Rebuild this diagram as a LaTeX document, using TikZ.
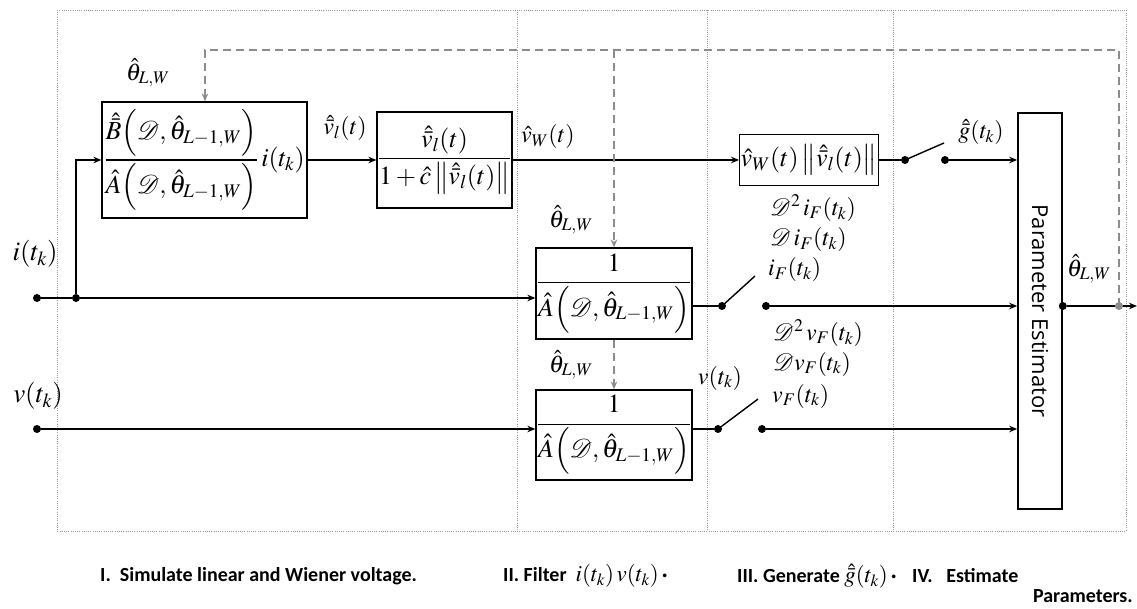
\documentclass[tikz,border=0pt]{standalone}
\usepackage{mathptmx}
\usepackage{amsmath}
\usepackage{fontspec}
\newfontfamily\carl{Carlito}
\newfontfamily\osans{Open Sans}
\usetikzlibrary{arrows.meta}
\newcommand\mfs{\fontsize{24}{28}\selectfont}
\newcommand\cfs{\fontsize{23}{26}\selectfont}
\newcommand\bfs{\fontsize{26}{30}\selectfont}
\newcommand\lfs{\fontsize{27}{30}\selectfont}
\begin{document}
\begin{tikzpicture}[x=1pt,y=-1pt,
  blk/.style={draw=black, line width=1.2pt, inner sep=1pt, font=\bfs},
  lbl/.style={inner sep=0pt, font=\mfs},
  sig/.style={line width=1.4pt, -{Stealth[length=8pt,width=6.5pt]}},
  wire/.style={line width=1.4pt},
  fb/.style={draw=black!45, dash pattern=on 8pt off 5pt, line width=1.6pt, -{Stealth[length=8pt,width=6.5pt]}},
  gridl/.style={draw=black!40, line width=0.9pt, dash pattern=on 0.9pt off 1.3pt},
  jdot/.style={circle, fill=black, inner sep=0pt, minimum size=8pt},
  gdot/.style={circle, fill=black!45, inner sep=0pt, minimum size=8pt},
  bottxt/.style={inner sep=0pt, anchor=west, font=\carl\bfseries\fontsize{20}{24}\selectfont}
]
\useasboundingbox (0,0) rectangle (1137,609);
\fill[white] (0,0) rectangle (1137,609);

% dotted stage grid
\draw[gridl] (57,10) rectangle (1126,531);
\draw[gridl] (517,10) -- (517,531);
\draw[gridl] (707,10) -- (707,531);
\draw[gridl] (893,10) -- (893,531);

% blocks
\node[blk, minimum width=205pt, minimum height=116pt] (b1) at (204.5,160)
  {$\displaystyle \frac{\hat{\bar{B}}\Big(\mathcal{D},\hat{\theta}_{L-1,W}\Big)}{\hat{A}\Big(\mathcal{D},\hat{\theta}_{L-1,W}\Big)}\,i(t_k)$};
\node[blk, minimum width=133pt, minimum height=96pt] (b2) at (444.5,160)
  {$\displaystyle \frac{\hat{\bar{v}}_l(t)}{1+\hat{c}\left\|\hat{\bar{v}}_l(t)\right\|}$};
\node[blk, minimum width=138pt, minimum height=51pt] (b3) at (809,160)
  {$\hat{v}_W(t)\left\|\hat{\bar{v}}_l(t)\right\|$};
\node[blk, minimum width=154pt, minimum height=91pt] (b4) at (614,293.5)
  {$\displaystyle\frac{1}{\hat{A}\Big(\mathcal{D},\hat{\theta}_{L-1,W}\Big)}$};
\node[blk, minimum width=154pt, minimum height=90pt] (b5) at (614,435)
  {$\displaystyle\frac{1}{\hat{A}\Big(\mathcal{D},\hat{\theta}_{L-1,W}\Big)}$};
\node[draw=black, line width=1.6pt, minimum width=44pt, minimum height=396pt, inner sep=0pt] (pe) at (1040,311) {};
\node[rotate=-90, inner sep=0pt, font=\osans\fontsize{22}{24}\selectfont] (pet) at (pe.center) {Parameter Estimator};

% inputs
\node[jdot] (iin) at (37,298) {};
\node[jdot] (jn) at (76,298) {};
\node[jdot] (vin) at (37,429) {};
\node[lbl, font=\lfs] (li) at (35,254) {$i(t_k)$};
\node[lbl, font=\lfs] (lv) at (38,396) {$v(t_k)$};

\draw[wire] (iin) -- (jn);
\draw[sig] (jn) -- (jn -| b4.west);
\draw[sig] (jn) |- (b1.west);
\draw[sig] (vin) -- (vin -| b5.west);

% row 1
\draw[sig] (b1.east) -- (b2.west);
\draw[sig] (b2.east) -- (b3.west);
\node[jdot] (s1a) at (905,160) {};
\node[jdot] (s1b) at (945,160) {};
\coordinate (s1t) at (944,143);
\draw[wire] (b3.east) -- (s1a);
\draw[wire] (s1a.center) -- (s1t);
\draw[sig] (s1b) -- (s1b -| pe.west);

% row 2
\node[jdot] (s2a) at (722,306) {};
\node[jdot] (s2b) at (766,306) {};
\coordinate (s2t) at (755,276);
\draw[wire] (b4.east |- s2a) -- (s2a);
\draw[wire] (s2a.center) -- (s2t);
\draw[sig] (s2b) -- (s2b -| pe.west);

% row 3
\node[jdot] (s3a) at (718,429) {};
\node[jdot] (s3b) at (762,429) {};
\coordinate (s3t) at (758,399);
\draw[wire] (b5.east |- s3a) -- (s3a);
\draw[wire] (s3a.center) -- (s3t);
\draw[sig] (s3b) -- (s3b -| pe.west);

% estimator output
\node[jdot] (peo) at (pe.east |- s2b) {};
\coordinate (outR) at (1137,306);
\draw[sig] (peo) -- (outR);
\node[gdot] (gd) at (1119,306) {};

% feedback
\coordinate (fbR) at (1119,50);
\coordinate (fbL) at (205,50);
\coordinate (fbM) at (b4.north |- fbR);
\draw[fb] (gd.center) -- (fbR) -- (fbL) -- (fbL |- b1.north);
\draw[fb] (fbM) -- (b4.north);
\draw[fb] (b4.south) -- (b5.north);

% labels
\node[lbl] (lt1) at (148,73) {$\hat{\theta}_{L,W}$};
\node[lbl] (lvl) at (345,128) {$\hat{\bar{v}}_l(t)$};
\node[lbl] (lvw) at (548,137) {$\hat{v}_W(t)$};
\node[lbl] (lt2) at (571,220) {$\hat{\theta}_{L,W}$};
\node[lbl] (lt3) at (571,365) {$\hat{\theta}_{L,W}$};
\node[lbl] (lg) at (981,132) {$\hat{\bar{g}}(t_k)$};
\node[lbl, anchor=west] (li2) at (770,208) {$\mathcal{D}^2\, i_F(t_k)$};
\node[lbl, anchor=west] (li1) at (770,240) {$\mathcal{D}\, i_F(t_k)$};
\node[lbl, anchor=west] (li0) at (768,270) {$i_F(t_k)$};
\node[lbl, anchor=west] (lv2) at (773,333) {$\mathcal{D}^2\, v_F(t_k)$};
\node[lbl, anchor=west] (lv1) at (773,364) {$\mathcal{D} v_F(t_k)$};
\node[lbl, anchor=west] (lv0) at (772,396) {$v_F(t_k)$};
\node[lbl] (lvs) at (720,378) {$v(t_k)$};
\node[lbl] (lto) at (1089,269) {$\hat{\theta}_{L,W}$};

% bottom captions
\node[bottxt] (c1) at (100,576) {I.\ \ Simulate linear and Wiener voltage.};
\node[bottxt] (c2) at (503,576) {II.\ Filter\ \ {\cfs$i(t_k)\,v(t_k)$}\,·};
\node[bottxt] (c3) at (737,576) {III.\ Generate\ {\cfs$\hat{\bar{g}}(t_k)$}\,·};
\node[bottxt] (c4) at (912,576) {IV.\ \ \ Estimate};
\node[bottxt, anchor=east] (c5) at (1133,596) {Parameters.};
\end{tikzpicture}
\end{document}
